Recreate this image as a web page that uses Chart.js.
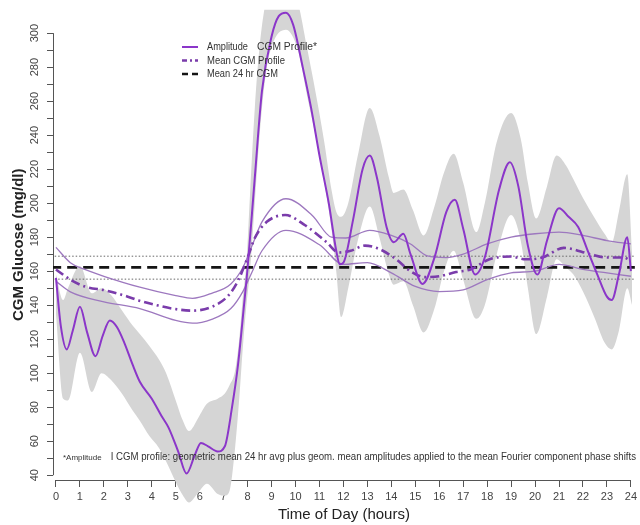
<!DOCTYPE html>
<html><head><meta charset="utf-8">
<script src="https://cdn.jsdelivr.net/npm/chart.js@4.4.1/dist/chart.umd.min.js"></script>
<style>html,body{margin:0;padding:0;background:#fff}#wrap{width:640px;height:525px}</style>
</head><body><div id="wrap"><canvas id="c" width="640" height="525"></canvas></div>
<script>
// ---- data ----
const xTicks = [0,1,2,3,4,5,6,7,8,9,10,11,12,13,14,15,16,17,18,19,20,21,22,23,24];
const yTicks = [40,50,60,70,80,90,100,110,120,130,140,150,160,170,180,190,200,210,220,230,240,250,260,270,280,290,300];

const ampHours = [0,0.2,0.45,0.7,1.0,1.3,1.65,1.95,2.25,2.55,2.85,3.2,3.5,4.0,4.4,4.7,5.1,5.45,5.8,6.05,6.35,6.75,7.05,7.35,7.6,7.85,8.0,8.3,8.6,9.0,9.3,9.6,9.9,10.3,10.65,11.0,11.4,11.7,11.85,12.0,12.4,12.8,13.1,13.4,13.8,14.1,14.5,14.8,15.3,15.8,16.3,16.65,17.0,17.5,17.9,18.5,18.95,19.3,19.7,20.1,20.5,21.0,21.4,21.8,22.2,22.6,23.0,23.2,23.5,23.85,24.0];
const ampValues = [156,128,114,125,139,124,110,122,131,127,118,105,95,85,75,68,54,41,52,59,57,54,57,80,105,140,162,215,266,298,310,312,305,280,256,228,199,172,164,165,190,220,228,215,186,177,182,170,152.5,168,195,202,185,158,168,208,224,210,175,158,178,197,192,186,172,158,145,143,158,180,160];

const bandHours = [0,0.3,0.5,1.0,1.5,1.9,2.3,2.75,3.2,3.5,3.9,4.3,4.6,5.0,5.3,5.55,5.95,6.3,6.75,7.05,7.25,7.47,7.65,7.8,7.95,8.1,8.3,8.5,8.75,9.0,9.6,10.1,10.5,10.8,11.2,11.5,11.7,11.9,12.2,12.6,13.1,13.5,13.9,14.1,14.5,14.9,15.35,15.8,16.2,16.6,17.0,17.55,17.9,18.4,19.0,19.4,19.7,20.05,20.5,20.9,21.3,21.6,22.0,22.5,22.9,23.2,23.5,23.85,24.05];
const bandUpper = [158,143,150,163,147,150,146,137,128,123,116,108,100,84,72,66,74,82,85,88,93,101,120,145,165,205,256,292,318,330,335,318,290,268,236,208,195,192,200,228,256,240,215,206,208,196,181,198,218,229,212,183,200,236,253,238,212,191,210,228,222,214,203,191,182,177,195,217,170];
const bandLower = [135,85,84,112,89,100,96,88,78,72,63,56,48,36,28,24,30,35,29,28,31,55,85,115,140,160,200,240,275,292,302,290,262,242,212,185,160,133,150,178,198,180,158,152,154,140,124,138,160,172,155,132,140,170,193,178,150,123,145,167,162,158,148,132,118,114,125,150,140];

const meanHours = [0,0.6,1.2,2.1,3.0,3.45,4.2,4.85,5.7,6.5,7.2,7.6,8.0,8.3,8.8,9.57,10.4,11.3,11.8,12.3,12.9,13.5,14.2,14.8,15.4,16.0,16.7,17.3,18.1,19.0,19.6,20.3,21.2,22.3,23.0,23.7,24.0];
const meanValues = [161,155,151,148.6,145,142.8,140,138,136.8,139,145.7,154.4,168,179.5,189,193,187,177,171,172,175,173,167,160,156.5,157,159.5,161,167,168.6,167,168,173.7,170,168,168,166];

const ciUpperHours = [0,0.6,1.2,2.0,3.5,5.0,5.7,6.5,7.3,7.8,8.2,8.6,9.6,10.7,11.5,12.1,13.1,14.0,14.8,15.5,16.3,17.0,18.0,19.0,20.0,21.0,22.0,23.0,24.0];
const ciUpperValues = [174,165,161,157,150.6,145.6,144,147,152.5,162,175.5,189,202.6,192.8,180,179.5,184,181,176,169,168,170,176,180,182,183,181,178,176];
const ciLowerHours = [0,0.6,2.0,3.5,5.0,5.7,6.5,7.3,7.8,8.2,8.6,9.6,11.0,12.0,13.0,14.0,15.0,16.0,17.0,18.0,19.0,20.0,21.0,22.0,23.0,24.0];
const ciLowerValues = [154,147.8,142,138,131,129.4,131.7,138,148,160,172,184,175.5,164,165,159,151,148,149,155,159,160,164,161,159,157];

const refHours = [-0.2, 24.3];
const mean24Values = [162.2, 162.2];
const mean24UpperValues = [168.8, 168.8];
const mean24LowerValues = [155.3, 155.3];

const legendLabels = ['Amplitude', 'CGM Profile*', 'Mean CGM Profile', 'Mean 24 hr CGM'];
const footStar = '*Amplitude';
const footText = ' I CGM profile: geometric mean 24 hr avg plus geom. mean amplitudes applied to the mean Fourier component phase shifts';

// ---- helpers ----
const pts = (xs, ys) => xs.map((x, i) => ({x: x, y: ys[i]}));
const FAM = '"Liberation Sans", Arial, sans-serif';
const PURPLE = '#8b36c9';
const PURPLE_DARK = '#7a3cab';
const PURPLE_LIGHT = '#9d78bf';

const line = (data, color, width, dash, extra) => Object.assign({
  data: data, borderColor: color, borderWidth: width, borderDash: dash || [],
  pointRadius: 0, fill: false, cubicInterpolationMode: 'monotone'
}, extra || {});

const datasets = [
  line(pts(ampHours, ampValues), PURPLE, 2),
  line(pts(meanHours, meanValues), PURPLE_DARK, 2.6, [9, 4, 2, 4]),
  line(pts(ciUpperHours, ciUpperValues), PURPLE_LIGHT, 1.3),
  line(pts(ciLowerHours, ciLowerValues), PURPLE_LIGHT, 1.3),
  line(pts(refHours, mean24Values), '#151515', 2.8, [10, 6]),
  line(pts(refHours, mean24UpperValues), '#666', 1, [1.5, 2]),
  line(pts(refHours, mean24LowerValues), '#666', 1, [1.5, 2]),
  line(pts(bandHours, bandUpper), 'rgba(0,0,0,0)', 0, [], {fill: '+1', backgroundColor: '#d5d5d5'}),
  line(pts(bandHours, bandLower), 'rgba(0,0,0,0)', 0, [])
];

// R-style axis lines spanning only the tick range, drawn under the data
const SPILL = 24;
const axesAndSpill = {
  id: 'axesAndSpill',
  beforeDatasetsDraw(chart) {
    const ctx = chart.ctx;
    const xs = chart.scales.x, ys = chart.scales.y;
    const area = chart.chartArea;
    ctx.save();
    ctx.strokeStyle = '#555'; ctx.lineWidth = 1;
    ctx.beginPath();
    const lx = Math.round(area.left) + 0.5;
    ctx.moveTo(lx, ys.getPixelForValue(yTicks[0]));
    ctx.lineTo(lx, ys.getPixelForValue(yTicks[yTicks.length - 1]));
    const by = Math.round(area.bottom) + 0.5;
    ctx.moveTo(xs.getPixelForValue(xTicks[0]), by);
    ctx.lineTo(xs.getPixelForValue(xTicks[xTicks.length - 1]), by);
    ctx.stroke();
    ctx.restore();
    // the grey band spills a little below the axis, as in the reference
    chart.chartArea.bottom += SPILL;
    chart.scales.y.bottom += SPILL;
  },
  afterDatasetsDraw(chart) {
    chart.chartArea.bottom -= SPILL;
    chart.scales.y.bottom -= SPILL;
  }
};

const decor = {
  id: 'decor',
  afterDraw(chart) {
    const ctx = chart.ctx;
    ctx.save();
    const lx0 = 182, lx1 = 198, tx = 207;
    const rows = [47, 60.5, 74];
    ctx.lineWidth = 2; ctx.strokeStyle = PURPLE; ctx.setLineDash([]);
    ctx.beginPath(); ctx.moveTo(lx0, rows[0]); ctx.lineTo(lx1, rows[0]); ctx.stroke();
    ctx.lineWidth = 2.4; ctx.strokeStyle = PURPLE_DARK; ctx.setLineDash([5, 3, 2, 3]);
    ctx.beginPath(); ctx.moveTo(lx0, rows[1]); ctx.lineTo(lx1, rows[1]); ctx.stroke();
    ctx.lineWidth = 2.6; ctx.strokeStyle = '#151515'; ctx.setLineDash([6, 4]);
    ctx.beginPath(); ctx.moveTo(lx0, rows[2]); ctx.lineTo(lx1 + 1, rows[2]); ctx.stroke();
    ctx.setLineDash([]);
    ctx.fillStyle = '#333'; ctx.textBaseline = 'middle'; ctx.textAlign = 'left';
    ctx.font = '11px ' + FAM;
    ctx.fillText(legendLabels[0], tx, rows[0], 41);
    ctx.fillText(legendLabels[1], 257, rows[0], 60);
    ctx.fillText(legendLabels[2], tx, rows[1], 78);
    ctx.fillText(legendLabels[3], tx, rows[2], 71);

    ctx.font = '8px ' + FAM;
    ctx.fillText(footStar, 63, 458, 44);
    ctx.font = '11px ' + FAM;
    ctx.fillText(footText, 108, 457, 528);
    ctx.restore();
  }
};

new Chart(document.getElementById('c'), {
  type: 'line',
  data: {datasets: datasets},
  plugins: [axesAndSpill, decor],
  options: {
    responsive: false, animation: false, devicePixelRatio: 1,
    layout: {padding: 0},
    plugins: {legend: {display: false}, tooltip: {enabled: false}},
    scales: {
      x: {
        type: 'linear', min: -0.124, max: 24.165,
        afterBuildTicks: s => { s.ticks = xTicks.map(v => ({value: v})); },
        afterFit: s => { s.height = 45; },
        grid: {drawOnChartArea: false, drawTicks: true, tickLength: 7, color: '#555', lineWidth: 1},
        border: {display: false},
        ticks: {autoSkip: false, maxRotation: 0, minRotation: 0, padding: 3, color: '#444',
                font: {size: 11, family: FAM}},
        title: {display: true, text: 'Time of Day (hours)', color: '#222',
                font: {size: 15, family: FAM}, padding: {top: 0, bottom: 1}}
      },
      y: {
        type: 'linear', min: 37.18, max: 313.83,
        afterBuildTicks: s => { s.ticks = yTicks.map(v => ({value: v})); },
        afterFit: s => { s.width = 53; },
        grid: {drawOnChartArea: false, drawTicks: true, tickLength: 6, color: '#555', lineWidth: 1},
        border: {display: false},
        ticks: {autoSkip: false, minRotation: 90, maxRotation: 90, crossAlign: 'center', padding: 3,
                color: '#444', font: {size: 11, family: FAM},
                callback: v => (v % 20 === 0 ? String(v) : '')},
        title: {display: true, text: 'CGM Glucose (mg/dl)', color: '#222',
                font: {size: 15, weight: 'bold', family: FAM}, padding: {top: 10, bottom: 0}}
      }
    }
  }
});
</script>
</body></html>
